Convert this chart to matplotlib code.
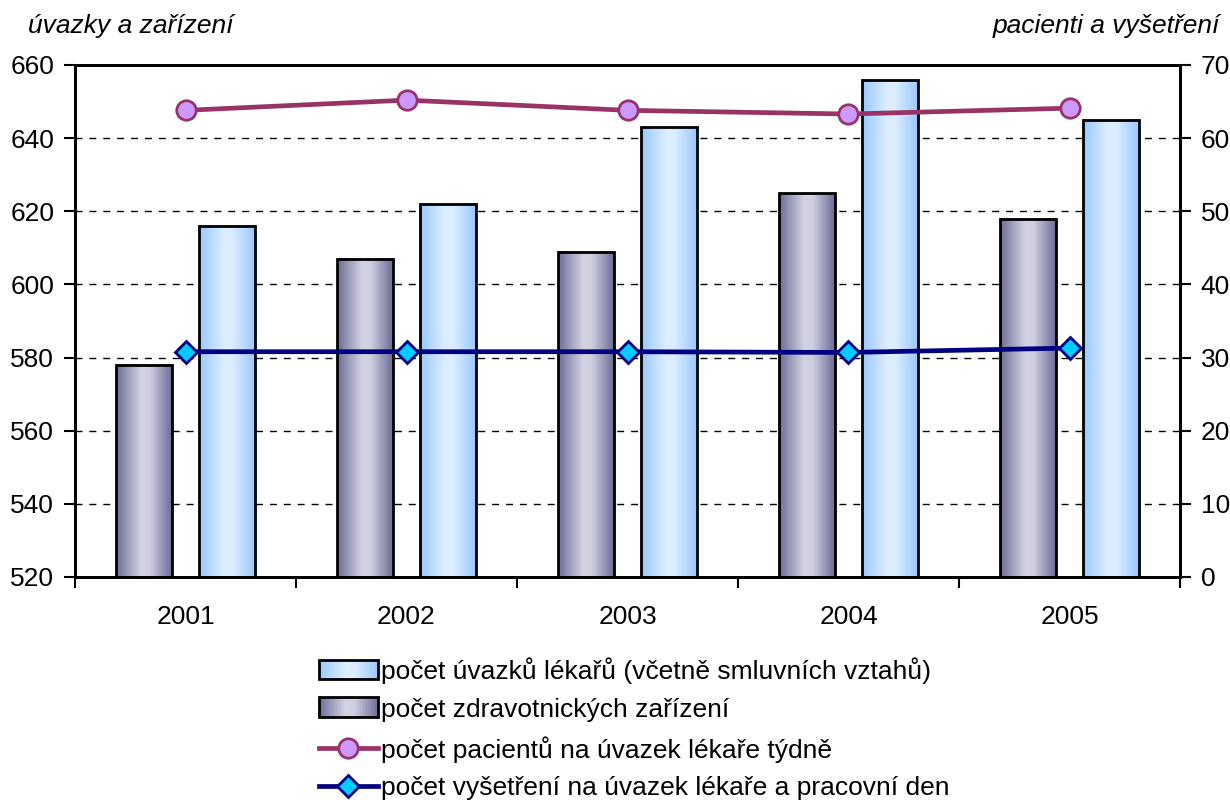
import numpy as np
import matplotlib
matplotlib.use("Agg")
import matplotlib.pyplot as plt
from matplotlib.legend_handler import HandlerBase
from matplotlib.patches import Rectangle
from matplotlib.lines import Line2D
from matplotlib.colors import LinearSegmentedColormap

plt.rcParams["font.family"] = ["Liberation Sans", "DejaVu Sans"]

YEARS = ["2001", "2002", "2003", "2004", "2005"]
ZARIZENI = [578, 607, 609, 625, 618]
UVAZKY = [616, 622, 643, 656, 645]
PACIENTI = [63.8, 65.2, 63.8, 63.3, 64.1]
VYSETRENI = [30.8, 30.8, 30.8, 30.7, 31.3]

LABELS = [
    "počet úvazků lékařů (včetně smluvních vztahů)",
    "počet zdravotnických zařízení",
    "počet pacientů na úvazek lékaře týdně",
    "počet vyšetření na úvazek lékaře a pracovní den",
]

GRAY_CMAP = LinearSegmentedColormap.from_list(
    "gray", [(0, "#6c6c98"), (0.45, "#d2d2e2"), (0.6, "#cfcfe0"), (1, "#6c6c98")])
BLUE_CMAP = LinearSegmentedColormap.from_list(
    "blue", [(0, "#98c8ff"), (0.45, "#ddeeff"), (0.6, "#dcedff"), (1, "#98c8ff")])
GRAD = np.linspace(0, 1, 256).reshape(1, -1)

FS = 19


def gradient_bars(ax, xs, heights, bottom, width, cmap):
    for x, h in zip(xs, heights):
        ax.imshow(GRAD, cmap=cmap, aspect="auto", interpolation="bilinear",
                  extent=[x - width / 2, x + width / 2, bottom, h], zorder=2)
        ax.add_patch(Rectangle((x - width / 2, bottom), width, h - bottom,
                               facecolor="none", edgecolor="black",
                               linewidth=2, zorder=3))


class GradientHandler(HandlerBase):
    def __init__(self, cmap):
        super().__init__()
        self.cmap = cmap

    def create_artists(self, legend, orig, xd, yd, width, height, fontsize, trans):
        arts = []
        n = 40
        for i in range(n):
            arts.append(Rectangle((xd + width * i / n, yd), width / n + 0.3, height,
                                  facecolor=self.cmap((i + 0.5) / n),
                                  edgecolor="none", transform=trans))
        arts.append(Rectangle((xd, yd), width, height, facecolor="none",
                              edgecolor="black", linewidth=2, transform=trans))
        return arts


fig = plt.figure(figsize=(12.3, 8), dpi=100)
ax = fig.add_axes([75 / 1230, 1 - 577 / 800, (1180 - 75) / 1230, (577 - 65) / 800])
ax2 = ax.twinx()

x = np.arange(len(YEARS))
w = 0.25
off = 0.188
gradient_bars(ax, x - off, ZARIZENI, 520, w, GRAY_CMAP)
gradient_bars(ax, x + off, UVAZKY, 520, w, BLUE_CMAP)

ax.set_xlim(-0.5, len(YEARS) - 0.5)
ax.set_ylim(520, 660)
ax.set_yticks(np.arange(520, 661, 20))
for yv in range(540, 660, 20):
    ax.axhline(yv, color="black", linewidth=1, linestyle=(0, (5, 5)), zorder=1)

ax.set_xticks(x)
ax.set_xticklabels(YEARS)
ax.set_xticks(np.arange(-0.5, len(YEARS) + 0.5, 1), minor=True)
ax.tick_params(axis="x", which="major", length=0, pad=20, labelsize=FS)
ax.tick_params(axis="x", which="minor", length=8, width=1.5, direction="out")
ax.tick_params(axis="y", length=8, width=1.5, pad=7, labelsize=FS)

ax2.plot(x, PACIENTI, color="#993366", linewidth=3.4, marker="o", markersize=14,
         markerfacecolor="#cc99ff", markeredgecolor="#993366", markeredgewidth=2,
         zorder=5)
ax2.plot(x, VYSETRENI, color="#000080", linewidth=3.4, marker="D", markersize=11,
         markerfacecolor="#00ccff", markeredgecolor="#000080", markeredgewidth=2,
         zorder=5)
ax2.set_ylim(0, 70)
ax2.set_yticks(np.arange(0, 71, 10))
ax2.tick_params(axis="y", length=8, width=1.5, pad=7, labelsize=FS)

for a in (ax, ax2):
    for s in a.spines.values():
        s.set_linewidth(2)

fig.text(28 / 1230, 1 - 26 / 800, "úvazky a zařízení", fontsize=FS,
         style="italic", ha="left", va="center")
fig.text(1220 / 1230, 1 - 26 / 800, "pacienti a vyšetření", fontsize=FS,
         style="italic", ha="right", va="center")

h_uv = Rectangle((0, 0), 1, 1)
h_za = Rectangle((0, 0), 1, 1)
h_pa = Line2D([], [], color="#993366", linewidth=3.4, marker="o", markersize=14,
              markerfacecolor="#cc99ff", markeredgecolor="#993366", markeredgewidth=2)
h_vy = Line2D([], [], color="#000080", linewidth=3.4, marker="D", markersize=11,
              markerfacecolor="#00ccff", markeredgecolor="#000080", markeredgewidth=2)
fig.legend([h_uv, h_za, h_pa, h_vy], LABELS, loc="center",
           bbox_to_anchor=(634 / 1230, 1 - 729 / 800), frameon=False,
           fontsize=FS, handlelength=2.25, handleheight=0.75, handletextpad=0.1,
           labelspacing=0.52, borderpad=0.2,
           handler_map={h_uv: GradientHandler(BLUE_CMAP),
                        h_za: GradientHandler(GRAY_CMAP)})

fig.savefig("out.png", dpi=100)
